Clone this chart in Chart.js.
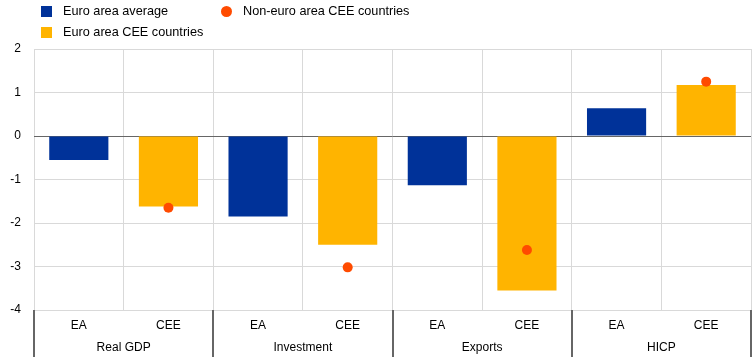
<!DOCTYPE html>
<html>
<head>
<meta charset="utf-8">
<script src="https://cdn.jsdelivr.net/npm/chart.js@4.4.1/dist/chart.umd.min.js"></script>
<style>
  html, body { margin: 0; padding: 0; background: #fff; }
  #wrap { position: relative; width: 756px; height: 360px; }
  #legend { position: absolute; left: 0; top: 0; width: 756px; height: 44px; font-family: "Liberation Sans", Arial, sans-serif; font-size: 12.7px; color: #000; }
  .li { position: absolute; white-space: nowrap; line-height: 14px; }
  .sw { position: absolute; }
</style>
</head>
<body>
<div id="wrap">
  <canvas id="c" width="756" height="360"></canvas>
  <div id="legend"></div>
</div>
<script>
const categories = ["EA", "CEE", "EA", "CEE", "EA", "CEE", "EA", "CEE"];
const groups = ["Real GDP", "Investment", "Exports", "HICP"];
const euroAreaAverage = [-0.55, null, -1.85, null, -1.13, null, 0.64, null];
const euroAreaCEE = [null, -1.62, null, -2.50, null, -3.55, null, 1.17];
const nonEuroAreaCEE = [null, -1.65, null, -3.02, null, -2.62, null, 1.25];
const yTicks = [2, 1, 0, -1, -2, -3, -4];

const seriesNames = ["Euro area average", "Euro area CEE countries", "Non-euro area CEE countries"];
const colors = { blue: "#003299", yellow: "#ffb400", orange: "#ff4b00" };

// HTML legend
const legend = document.getElementById("legend");
const legendItems = [
  { name: seriesNames[0], color: colors.blue, shape: "square", x: 41, y: 6 },
  { name: seriesNames[2], color: colors.orange, shape: "dot", x: 221, y: 6 },
  { name: seriesNames[1], color: colors.yellow, shape: "square", x: 41, y: 27 }
];
legendItems.forEach(it => {
  const sw = document.createElement("div");
  sw.className = "sw";
  sw.style.left = it.x + "px";
  sw.style.top = it.y + "px";
  sw.style.width = "11px";
  sw.style.height = "11px";
  sw.style.background = it.color;
  if (it.shape === "dot") sw.style.borderRadius = "50%";
  legend.appendChild(sw);
  const t = document.createElement("div");
  t.className = "li";
  t.textContent = it.name;
  t.style.left = (it.x + 22) + "px";
  t.style.top = (it.y - 2) + "px";
  legend.appendChild(t);
});

const groupPlugin = {
  id: "groupPlugin",
  afterDraw(chart) {
    const ctx = chart.ctx;
    const x = chart.scales.x;
    const area = chart.chartArea;
    const n = categories.length;
    const step = (x.getPixelForValue(1) - x.getPixelForValue(0));
    ctx.save();
    // group separators
    ctx.strokeStyle = "#666666";
    ctx.lineWidth = 2;
    for (let g = 0; g <= groups.length; g++) {
      let px;
      if (g < groups.length) px = x.getPixelForValue(g * 2) - step / 2;
      else px = x.getPixelForValue(n - 1) + step / 2;
      px = Math.round(px);
      ctx.beginPath();
      ctx.moveTo(px, area.bottom);
      ctx.lineTo(px, area.bottom + 47);
      ctx.stroke();
    }
    // group labels
    ctx.fillStyle = "#000";
    ctx.font = "12px 'Liberation Sans', Arial, sans-serif";
    ctx.textAlign = "center";
    ctx.textBaseline = "middle";
    groups.forEach((gname, g) => {
      const cx = (x.getPixelForValue(g * 2) + x.getPixelForValue(g * 2 + 1)) / 2;
      ctx.fillText(gname, cx, area.bottom + 38);
    });
    ctx.restore();
  }
};

new Chart(document.getElementById("c"), {
  type: "bar",
  data: {
    labels: categories,
    datasets: [
      {
        type: "line",
        label: seriesNames[2],
        data: nonEuroAreaCEE,
        showLine: false,
        pointRadius: 5,
        pointHoverRadius: 5,
        pointBackgroundColor: colors.orange,
        pointBorderWidth: 0,
        borderColor: colors.orange,
        order: 0
      },
      {
        label: seriesNames[0],
        data: euroAreaAverage,
        backgroundColor: colors.blue,
        grouped: false,
        barPercentage: 0.66,
        categoryPercentage: 1,
        order: 1
      },
      {
        label: seriesNames[1],
        data: euroAreaCEE,
        backgroundColor: colors.yellow,
        grouped: false,
        barPercentage: 0.66,
        categoryPercentage: 1,
        order: 1
      }
    ]
  },
  options: {
    responsive: false,
    animation: false,
    devicePixelRatio: 1,
    layout: { padding: { top: 49, right: 3, left: 0, bottom: 0 } },
    plugins: {
      legend: { display: false },
      tooltip: { enabled: false }
    },
    scales: {
      x: {
        offset: true,
        grid: { offset: true, color: "#d9d9d9", lineWidth: 1, drawTicks: false },
        border: { display: false },
        ticks: {
          color: "#000",
          padding: 8,
          font: { family: "'Liberation Sans', Arial, sans-serif", size: 12 },
          maxRotation: 0,
          autoSkip: false
        },
        afterFit(scale) { scale.height = 50; }
      },
      y: {
        min: -4,
        max: 2,
        afterBuildTicks(scale) { scale.ticks = yTicks.map(v => ({ value: v })); },
        grid: {
          drawTicks: false,
          lineWidth: 1,
          color: ctx => (ctx.tick && ctx.tick.value === 0) ? "#666666" : "#d9d9d9"
        },
        border: { display: false },
        ticks: {
          color: "#000",
          padding: 13,
          font: { family: "'Liberation Sans', Arial, sans-serif", size: 12 }
        },
        afterFit(scale) { scale.width = 34; }
      }
    }
  },
  plugins: [groupPlugin]
});
</script>
</body>
</html>
